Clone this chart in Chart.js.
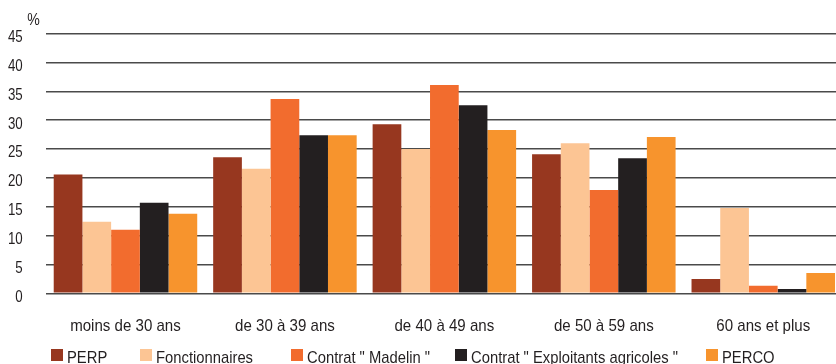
<!DOCTYPE html>
<html lang="fr">
<head>
<meta charset="utf-8">
<title>Adhérents par tranche d'âge</title>
<script src="https://cdn.jsdelivr.net/npm/chart.js@4/dist/chart.umd.min.js"></script>
<style>
  html, body { margin: 0; padding: 0; background: #ffffff; overflow: hidden; }
  #wrap { position: absolute; left: 0; top: 0; width: 844px; height: 364px; }
</style>
</head>
<body>
<div id="wrap"><canvas id="chart" width="844" height="364"></canvas></div>
<script>
// Tranches d'âge (axe des abscisses)
const categories = ['moins de 30 ans', 'de 30 à 39 ans', 'de 40 à 49 ans', 'de 50 à 59 ans', '60 ans et plus'];

// Répartition en % par type de contrat
const perp           = [20.6, 23.6, 29.3, 24.1, 2.5];
const fonctionnaires = [12.4, 21.6, 25.0, 26.0, 14.8];
const madelin        = [11.0, 33.7, 36.1, 17.9, 1.3];
const exploitants    = [15.7, 27.4, 32.6, 23.4, 0.75];
const perco          = [13.8, 27.4, 28.3, 27.1, 3.5];

const seriesNames = ['PERP', 'Fonctionnaires', 'Contrat " Madelin "', 'Contrat " Exploitants agricoles "', 'PERCO'];
const seriesColors = ['#97371f', '#fcc594', '#f26c2e', '#231f20', '#f7942d'];

// Graduations de l'axe des ordonnées
const yMin = 0;
const yMax = 45;
const yStep = 5;

const FONT = "'Liberation Sans', Arial, sans-serif";
const INK = '#231f20';

// Texte condensé horizontalement (police étroite)
function narrowText(ctx, text, x, y, size, squeeze, align) {
  ctx.save();
  ctx.font = size + 'px ' + FONT;
  ctx.textAlign = align;
  ctx.textBaseline = 'alphabetic';
  ctx.translate(x, y);
  ctx.scale(squeeze, 1);
  ctx.fillText(text, 0, 0);
  ctx.restore();
}

// Étiquettes des axes, unité et légende
const axisLabelsAndLegend = {
  id: 'axisLabelsAndLegend',
  afterDraw(chart) {
    const ctx = chart.ctx;
    const xs = chart.scales.x;
    const ys = chart.scales.y;
    ctx.save();
    ctx.fillStyle = INK;

    // graduations verticales
    ys.ticks.forEach(t => {
      const y = ys.getPixelForValue(t.value);
      narrowText(ctx, String(t.value), 22.7, y + 8.4, 16, 0.83, 'right');
    });
    // unité
    narrowText(ctx, '%', 27.3, 25, 17, 0.83, 'left');

    // catégories
    chart.data.labels.forEach((lab, i) => {
      const x = xs.getPixelForTick(i);
      narrowText(ctx, lab, x, 330.7, 17, 0.887, 'center');
    });

    // légende
    const starts = [51, 140, 291, 455, 706];
    chart.data.datasets.forEach((ds, i) => {
      const x = starts[i];
      ctx.fillStyle = ds.backgroundColor;
      ctx.fillRect(x, 349, 12, 12);
      ctx.fillStyle = INK;
      narrowText(ctx, ds.label, x + 16, 363.3, 17, 0.87, 'left');
    });
    ctx.restore();
  }
};

const seriesValues = [perp, fonctionnaires, madelin, exploitants, perco];

new Chart(document.getElementById('chart'), {
  type: 'bar',
  data: {
    labels: categories,
    datasets: seriesValues.map((vals, i) => ({
      label: seriesNames[i],
      data: vals,
      backgroundColor: seriesColors[i],
      borderWidth: 0,
      categoryPercentage: 0.9,
      barPercentage: 1.0
    }))
  },
  options: {
    responsive: false,
    animation: false,
    devicePixelRatio: 1,
    layout: { padding: { top: 33.7, right: 1, bottom: 0, left: 0 } },
    plugins: {
      legend: { display: false },
      tooltip: { enabled: false },
      title: { display: false }
    },
    scales: {
      x: {
        grid: { display: false },
        border: { display: false },
        ticks: { display: false, autoSkip: false, maxRotation: 0 },
        afterFit(scale) { scale.height = 70.7; }
      },
      y: {
        min: yMin,
        max: yMax,
        border: { display: false },
        grid: { color: '#4a4a4a', lineWidth: 1.6, drawTicks: false },
        ticks: { display: false, stepSize: yStep },
        afterFit(scale) { scale.width = 45.75; }
      }
    }
  },
  plugins: [axisLabelsAndLegend]
});
</script>
</body>
</html>
